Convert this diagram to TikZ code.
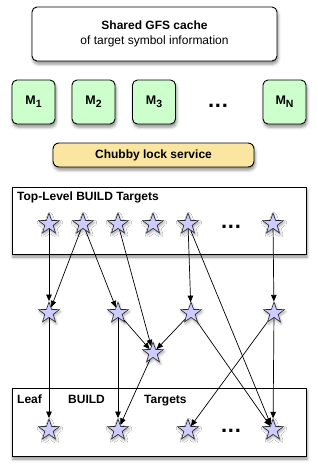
\documentclass[tikz,border=0pt]{standalone}
\usepackage{fontspec}
\setmainfont{Liberation Sans}
\usetikzlibrary{shapes.geometric,shadows.blur,arrows.meta}
\definecolor{mgreen}{RGB}{204,255,204}
\definecolor{chub}{RGB}{250,230,160}
\definecolor{starc}{RGB}{204,204,255}
\newcommand{\msub}[1]{\raisebox{-3pt}{\fontsize{10.5}{10.5}\selectfont #1}}
\begin{document}
\begin{tikzpicture}[x=1pt,y=-1pt,
  shad/.style={blur shadow={shadow xshift=1pt,shadow yshift=-3pt,shadow blur radius=3pt,shadow opacity=45}},
  sshad/.style={blur shadow={shadow xshift=1pt,shadow yshift=-2pt,shadow blur radius=2.5pt,shadow opacity=35}},
  box/.style={draw=black,line width=0.9pt,shad,inner sep=0pt},
  rbox/.style={box,rounded corners=5pt},
  mbox/.style={rbox,fill=mgreen,minimum width=43pt,minimum height=44pt,font=\fontsize{12.5}{14}\selectfont\bfseries},
  bigbox/.style={box,fill=white,minimum width=294pt},
  tstar/.style={star,star points=5,star point ratio=2.5,minimum size=22pt,inner sep=0pt,draw=black!85,line width=0.6pt,fill=starc,sshad},
  edge/.style={-{Triangle[length=6.5pt,width=5.5pt]},line width=0.7pt},
  lbl/.style={font=\fontsize{12}{14}\selectfont\bfseries,inner sep=0pt},
  dots/.style={font=\fontsize{22}{22}\selectfont\bfseries,inner sep=0pt}
]
\useasboundingbox (0,0) rectangle (317,471);
% top cache box
\node[rbox,fill=white,minimum width=245pt,minimum height=54pt,align=center,
  font=\fontsize{12}{15}\selectfont] (gfs) at (154.5,34)
  {\textbf{Shared GFS cache}\\of target symbol information};
% machines
\node[mbox] (m1) at (33.5,102) {M\msub{1}};
\node[mbox] (m2) at (93.5,102) {M\msub{2}};
\node[mbox] (m3) at (154,102) {M\msub{3}};
\node[dots] (mdots) at (218,106) {.\kern0.8pt.\kern0.8pt.};
\node[mbox] (mn) at (284.5,102) {M\msub{N}};
% chubby
\node[box,rounded corners=6pt,fill=chub,minimum width=201pt,minimum height=24pt,
  font=\fontsize{12}{14}\selectfont\bfseries] (chubby) at (153.5,155) {Chubby lock service};
% top-level box
\node[bigbox,minimum height=67pt] (topbox) at (159,220.5) {};
\node[lbl,anchor=base west] (toptitle) at (17,200.5) {Top-Level BUILD Targets};
% leaf box
\node[bigbox,minimum height=68pt] (leafbox) at (159,422) {};
\node[lbl,anchor=base west] (leaf1) at (17,403) {Leaf};
\node[lbl,anchor=base west] (leaf2) at (68,403) {BUILD};
\node[lbl,anchor=base west] (leaf3) at (144,403) {Targets};
% top stars
\node[tstar] (t1) at (49,224) {};
\node[tstar] (t2) at (83,224) {};
\node[tstar] (t3) at (118,224) {};
\node[tstar] (t4) at (153,224) {};
\node[tstar] (t5) at (188,224) {};
\node[dots] (tdots) at (231,226.5) {.\kern0.8pt.\kern0.8pt.};
\node[tstar] (t7) at (273,224) {};
% middle stars
\node[tstar] (s1) at (49,313) {};
\node[tstar] (s2) at (118,313) {};
\node[tstar] (s3) at (191,313) {};
\node[tstar] (s4) at (274,313) {};
\node[tstar] (c) at (153,353) {};
% leaf stars
\node[tstar] (l1) at (49,430) {};
\node[tstar] (l2) at (118,430) {};
\node[tstar] (l3) at (188,430) {};
\node[dots] (ldots) at (231,430.5) {.\kern0.8pt.\kern0.8pt.};
\node[tstar] (l4) at (273,430) {};
% edges
\draw[edge] (t1) -- (s1);
\draw[edge] (t2) -- (s1);
\draw[edge] (t2) -- (s2);
\draw[edge] (t3) -- (c);
\draw[edge] (t5) -- (s3);
\draw[edge] (t5) -- (l4);
\draw[edge] (t7) -- (s4);
\draw[edge] (s1) -- (l1);
\draw[edge] (s2) -- (l2);
\draw[edge] (s2) -- (c);
\draw[edge] (s3) -- (c);
\draw[edge] (s3) -- (l4);
\draw[edge] (c) -- (l2);
\draw[edge] (s4) -- (l3);
\draw[edge] (s4) -- (l4);
\end{tikzpicture}
\end{document}
